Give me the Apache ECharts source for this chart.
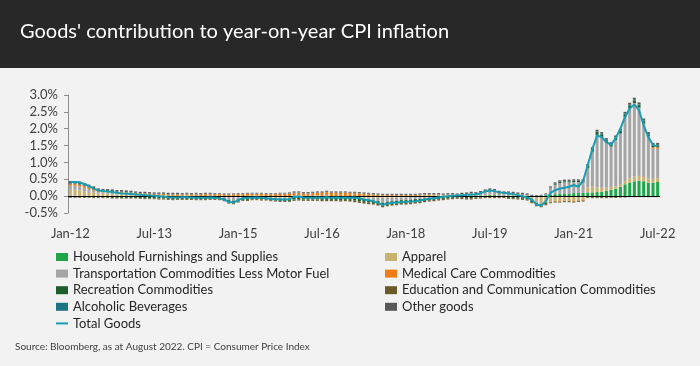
<!DOCTYPE html>
<html><head><meta charset="utf-8">
<script src="https://cdn.jsdelivr.net/npm/echarts@6/dist/echarts.min.js"></script>
<style>html,body{margin:0;padding:0;background:#f2f2f2;}#c{width:700px;height:366px;}</style>
</head><body><div id="c"></div>
<script>
const monthNames=['Jan','Feb','Mar','Apr','May','Jun','Jul','Aug','Sep','Oct','Nov','Dec'];
const categories=[];
for(let y=2012;y<=2022;y++){for(let m=0;m<12;m++){if(y===2022&&m>6)break;categories.push(monthNames[m]+'-'+String(y).slice(2));}}
const yTicks=[-0.5,0,0.5,1,1.5,2,2.5,3];

const household=[
0.01,0.01,0.00,0.00,0.00,-0.01,-0.01,-0.01,-0.01,-0.01,-0.01,-0.01,
-0.01,-0.01,-0.01,-0.02,-0.02,-0.02,-0.02,-0.02,-0.02,-0.02,-0.02,-0.02,
-0.02,-0.02,-0.02,-0.02,-0.02,-0.02,-0.02,-0.02,-0.02,-0.02,-0.03,-0.03,
-0.02,-0.02,-0.02,-0.01,-0.01,-0.01,-0.01,-0.01,-0.01,-0.02,-0.02,-0.02,
-0.02,-0.02,-0.02,-0.02,-0.02,-0.02,-0.03,-0.03,-0.03,-0.03,-0.03,-0.03,
-0.03,-0.03,-0.03,-0.03,-0.03,-0.03,-0.03,-0.03,-0.03,-0.03,-0.03,-0.02,
-0.02,-0.02,-0.01,-0.01,-0.01,0.00,0.00,0.01,0.01,0.01,0.01,0.02,
0.02,0.02,0.02,0.02,0.02,0.02,0.03,0.03,0.02,0.02,0.02,0.02,
0.01,0.01,0.01,0.00,0.00,0.01,0.03,0.05,0.06,0.07,0.08,0.08,
0.09,0.09,0.10,0.11,0.11,0.12,0.13,0.16,0.19,0.22,0.28,0.35,
0.40,0.44,0.46,0.44,0.40,0.40,0.42];
const apparel=[
0.18,0.18,0.17,0.15,0.13,0.10,0.08,0.07,0.07,0.06,0.05,0.05,
0.04,0.03,0.03,0.02,0.02,0.02,0.01,0.02,0.02,0.01,0.01,0.01,
0.01,0.01,0.01,0.01,0.00,0.01,0.01,0.01,0.01,0.00,0.00,0.00,
-0.01,-0.02,-0.02,-0.01,-0.01,-0.02,-0.02,-0.03,-0.03,-0.02,-0.02,-0.03,
-0.01,0.00,0.00,0.01,0.01,0.02,0.01,0.01,0.00,0.00,0.00,0.00,
0.00,-0.02,-0.03,-0.02,-0.03,-0.02,-0.01,-0.02,-0.02,-0.02,-0.02,-0.02,
-0.02,-0.01,0.00,0.01,0.02,0.02,0.02,0.02,0.01,0.02,0.02,0.00,
-0.01,-0.02,-0.02,0.00,0.01,0.02,0.02,0.01,0.00,0.00,-0.02,-0.02,
-0.03,-0.03,-0.05,-0.10,-0.15,-0.18,-0.18,-0.16,-0.14,-0.14,-0.13,-0.13,
-0.14,-0.12,-0.10,0.15,0.17,0.14,0.12,0.10,0.08,0.07,0.08,0.10,
0.13,0.14,0.14,0.13,0.12,0.11,0.11];
const transport=[
0.12,0.12,0.12,0.10,0.08,0.06,0.04,0.04,0.04,0.04,0.03,0.03,
0.03,0.03,0.02,0.02,0.02,0.01,0.01,0.00,0.00,0.00,-0.01,0.00,
0.00,0.01,0.00,-0.01,-0.01,-0.01,0.00,0.00,-0.01,-0.04,-0.09,-0.11,
-0.06,0.00,0.01,0.01,0.01,0.01,0.00,-0.01,-0.02,-0.03,-0.03,-0.02,
0.03,0.03,0.01,0.00,0.00,0.00,0.00,0.01,0.00,0.00,-0.01,-0.01,
-0.01,-0.01,-0.02,-0.05,-0.06,-0.08,-0.11,-0.15,-0.12,-0.10,-0.09,-0.08,
-0.08,-0.08,-0.08,-0.07,-0.06,-0.05,-0.04,-0.03,-0.02,-0.01,0.00,0.00,
0.01,0.02,0.03,0.02,0.04,0.07,0.09,0.08,0.05,0.04,0.04,0.03,
0.03,0.02,0.01,-0.02,-0.05,-0.04,0.02,0.20,0.28,0.32,0.33,0.33,
0.33,0.33,0.31,0.58,1.04,1.56,1.51,1.32,1.20,1.38,1.50,1.90,
2.08,2.17,2.02,1.57,1.22,0.90,0.88];
const medical=[
0.05,0.05,0.05,0.05,0.05,0.05,0.04,0.04,0.04,0.04,0.04,0.04,
0.04,0.04,0.04,0.04,0.04,0.04,0.04,0.04,0.04,0.04,0.04,0.04,
0.04,0.04,0.04,0.05,0.05,0.05,0.05,0.05,0.05,0.05,0.05,0.05,
0.06,0.06,0.06,0.06,0.06,0.06,0.06,0.06,0.06,0.07,0.07,0.07,
0.07,0.07,0.07,0.07,0.08,0.08,0.09,0.10,0.10,0.10,0.10,0.10,
0.09,0.09,0.08,0.07,0.06,0.05,0.04,0.03,0.03,0.03,0.03,0.03,
0.03,0.03,0.03,0.03,0.03,0.03,0.03,0.02,0.02,0.02,0.02,0.02,
0.02,0.02,0.03,0.03,0.03,0.04,0.04,0.04,0.04,0.03,0.03,0.03,
0.02,0.02,0.01,0.00,-0.01,-0.02,-0.02,-0.02,-0.02,-0.02,-0.02,-0.02,
-0.02,-0.02,-0.03,-0.03,-0.03,-0.03,-0.03,-0.03,-0.02,-0.02,-0.01,-0.01,
0.00,0.01,0.01,0.02,0.03,0.04,0.05];
const recreation=[
-0.03,-0.03,-0.03,-0.03,-0.03,-0.03,-0.03,-0.03,-0.03,-0.04,-0.04,-0.04,
-0.04,-0.04,-0.04,-0.04,-0.05,-0.05,-0.05,-0.05,-0.05,-0.06,-0.06,-0.06,
-0.06,-0.06,-0.06,-0.06,-0.06,-0.06,-0.06,-0.06,-0.06,-0.06,-0.07,-0.07,
-0.07,-0.07,-0.07,-0.07,-0.07,-0.07,-0.07,-0.07,-0.07,-0.07,-0.07,-0.07,
-0.07,-0.07,-0.08,-0.08,-0.08,-0.08,-0.08,-0.08,-0.08,-0.08,-0.08,-0.07,
-0.07,-0.07,-0.07,-0.07,-0.07,-0.07,-0.08,-0.08,-0.08,-0.08,-0.08,-0.08,
-0.08,-0.08,-0.08,-0.08,-0.07,-0.07,-0.07,-0.06,-0.06,-0.05,-0.05,-0.04,
-0.04,-0.04,-0.04,-0.04,-0.04,-0.03,-0.03,-0.03,-0.03,-0.03,-0.03,-0.04,
-0.04,-0.05,-0.05,-0.06,-0.06,-0.06,-0.04,0.00,0.02,0.03,0.03,0.03,
0.03,0.03,0.04,0.06,0.07,0.08,0.07,0.07,0.06,0.06,0.07,0.08,
0.08,0.08,0.07,0.06,0.05,0.05,0.04];
const education=[
-0.02,-0.02,-0.02,-0.02,-0.02,-0.02,-0.02,-0.02,-0.02,-0.02,-0.02,-0.02,
-0.02,-0.02,-0.02,-0.02,-0.02,-0.02,-0.02,-0.03,-0.03,-0.03,-0.03,-0.03,
-0.03,-0.03,-0.03,-0.03,-0.03,-0.03,-0.03,-0.03,-0.03,-0.03,-0.03,-0.03,
-0.03,-0.03,-0.03,-0.03,-0.03,-0.03,-0.03,-0.03,-0.03,-0.03,-0.03,-0.03,
-0.04,-0.04,-0.04,-0.04,-0.04,-0.04,-0.04,-0.04,-0.04,-0.04,-0.04,-0.04,
-0.05,-0.05,-0.05,-0.05,-0.05,-0.05,-0.05,-0.05,-0.05,-0.05,-0.05,-0.05,
-0.05,-0.05,-0.05,-0.05,-0.04,-0.04,-0.04,-0.04,-0.04,-0.04,-0.04,-0.04,
-0.04,-0.04,-0.04,-0.04,-0.03,-0.03,-0.03,-0.03,-0.03,-0.03,-0.03,-0.03,
-0.03,-0.03,-0.03,-0.03,-0.03,-0.03,-0.03,-0.03,-0.03,-0.03,-0.03,-0.03,
-0.03,-0.03,-0.03,-0.03,-0.03,-0.03,-0.03,-0.03,-0.03,-0.03,-0.03,-0.03,
-0.03,-0.03,-0.03,-0.03,-0.03,-0.03,-0.03];
const alcohol=[
0.02,0.02,0.02,0.02,0.02,0.02,0.01,0.01,0.01,0.01,0.01,0.01,
0.01,0.01,0.01,0.01,0.01,0.01,0.01,0.01,0.01,0.01,0.01,0.01,
0.01,0.01,0.01,0.01,0.01,0.01,0.01,0.01,0.01,0.01,0.01,0.01,
0.01,0.01,0.01,0.01,0.01,0.01,0.01,0.01,0.01,0.01,0.01,0.01,
0.01,0.01,0.01,0.01,0.01,0.01,0.01,0.01,0.01,0.01,0.01,0.01,
0.01,0.01,0.01,0.01,0.01,0.01,0.01,0.01,0.01,0.01,0.01,0.01,
0.01,0.01,0.01,0.01,0.01,0.01,0.01,0.01,0.01,0.01,0.01,0.01,
0.01,0.01,0.01,0.01,0.01,0.01,0.01,0.01,0.01,0.01,0.01,0.01,
0.01,0.01,0.01,0.01,0.01,0.01,0.01,0.01,0.01,0.01,0.01,0.01,
0.01,0.01,0.01,0.01,0.01,0.02,0.02,0.02,0.02,0.02,0.02,0.02,
0.02,0.02,0.02,0.02,0.02,0.02,0.02];
const otherGoods=[
0.07,0.07,0.07,0.07,0.06,0.06,0.06,0.05,0.05,0.05,0.05,0.05,
0.05,0.05,0.04,0.04,0.04,0.04,0.04,0.04,0.04,0.04,0.04,0.04,
0.03,0.03,0.03,0.03,0.03,0.03,0.03,0.02,0.02,0.02,0.02,0.02,
0.02,0.02,0.02,0.02,0.02,0.02,0.02,0.02,0.02,0.02,0.02,0.03,
0.03,0.03,0.03,0.03,0.03,0.03,0.03,0.03,0.03,0.03,0.03,0.03,
0.03,0.03,0.03,0.03,0.03,0.03,0.03,0.03,0.03,0.03,0.03,0.03,
0.03,0.03,0.03,0.03,0.03,0.03,0.03,0.03,0.03,0.03,0.03,0.03,
0.04,0.04,0.04,0.04,0.04,0.04,0.04,0.04,0.04,0.04,0.04,0.04,
0.04,0.04,0.04,0.03,0.02,0.02,0.02,0.03,0.04,0.04,0.04,0.04,
0.04,0.04,0.04,0.04,0.05,0.05,0.05,0.05,0.05,0.05,0.05,0.05,
0.06,0.06,0.06,0.06,0.06,0.06,0.06];
const totalGoods=[
0.42,0.42,0.41,0.36,0.30,0.22,0.17,0.15,0.14,0.12,0.10,0.08,
0.07,0.06,0.05,0.04,0.03,0.02,0.01,0.00,-0.01,-0.03,-0.04,-0.04,
-0.03,-0.03,-0.04,-0.05,-0.05,-0.05,-0.04,-0.05,-0.06,-0.10,-0.17,-0.19,
-0.12,-0.06,-0.05,-0.05,-0.04,-0.05,-0.06,-0.08,-0.09,-0.10,-0.10,-0.09,
-0.02,-0.01,-0.04,-0.05,-0.05,-0.04,-0.05,-0.03,-0.05,-0.04,-0.05,-0.04,
-0.05,-0.04,-0.06,-0.10,-0.12,-0.15,-0.20,-0.26,-0.22,-0.20,-0.19,-0.18,
-0.17,-0.16,-0.15,-0.13,-0.10,-0.08,-0.06,-0.04,-0.02,0.00,0.01,0.02,
0.03,0.04,0.05,0.05,0.08,0.14,0.17,0.15,0.11,0.10,0.08,0.06,
0.03,0.00,-0.04,-0.10,-0.25,-0.28,-0.15,0.10,0.18,0.22,0.25,0.28,
0.33,0.28,0.45,0.92,1.40,1.80,1.75,1.60,1.52,1.72,2.00,2.35,
2.60,2.72,2.55,2.10,1.75,1.52,1.47];

const barSeries=[
['Household Furnishings and Supplies',household,'#1fa64a'],
['Apparel',apparel,'#c9b26f'],
['Transportation Commodities Less Motor Fuel',transport,'#a5a5a5'],
['Medical Care Commodities',medical,'#ee7d14'],
['Recreation Commodities',recreation,'#1b5e2a'],
['Education and Communication Commodities',education,'#6b5a2a'],
['Alcoholic Beverages',alcohol,'#1d7483'],
['Other goods',otherGoods,'#595959']
];
const FONT='Lato';
const series=barSeries.map(([name,data,color])=>({
  name,type:'bar',stack:'g',data,barCategoryGap:'35%',
  itemStyle:{color},emphasis:{disabled:true}
}));
series.push({
  name:'Total Goods',type:'line',data:totalGoods,symbol:'none',showSymbol:false,
  lineStyle:{color:'#1a9db2',width:2},itemStyle:{color:'#1a9db2'},z:5,
  markLine:{symbol:'none',silent:true,label:{show:false},animation:false,
    lineStyle:{color:'#000',width:1,type:'solid'},data:[{yAxis:0}]}
});
const chart=echarts.init(document.getElementById('c'),null,{renderer:'canvas'});
const legText={fontFamily:FONT,fontSize:13,color:'#262626',lineHeight:16};
chart.setOption({
  animation:false,
  backgroundColor:'#f2f2f2',
  textStyle:{fontFamily:FONT},
  grid:{left:68,right:40,top:95,bottom:153},
  xAxis:{type:'category',data:categories,axisLine:{onZero:false,show:false},axisTick:{show:false},
    axisLabel:{interval:17,margin:14,fontFamily:FONT,fontSize:13,color:'#404040'}},
  yAxis:{type:'value',min:-0.5,max:3,interval:0.5,splitLine:{show:false},
    axisLine:{show:true,lineStyle:{color:'#8c8c8c'}},axisTick:{show:true,length:4,lineStyle:{color:'#8c8c8c'}},
    axisLabel:{margin:10,fontFamily:FONT,fontSize:13,color:'#404040',formatter:v=>v.toFixed(1)+'%'}},
  legend:[
    {orient:'vertical',left:50,top:244,itemWidth:12,itemHeight:8,itemGap:0.6,textStyle:legText,
     data:[{name:'Household Furnishings and Supplies',icon:'rect'},{name:'Transportation Commodities Less Motor Fuel',icon:'rect'},{name:'Recreation Commodities',icon:'rect'},{name:'Alcoholic Beverages',icon:'rect'},{name:'Total Goods',itemStyle:{opacity:0}}]},
    {orient:'vertical',left:380,top:244,itemWidth:12,itemHeight:8,itemGap:0.6,textStyle:legText,
     data:[{name:'Apparel',icon:'rect'},{name:'Medical Care Commodities',icon:'rect'},{name:'Education and Communication Commodities',icon:'rect'},{name:'Other goods',icon:'rect'}]}
  ],
  graphic:[
    {type:'rect',left:0,top:0,shape:{width:700,height:68},style:{fill:'#282828'},z:-1},
    {type:'text',left:20,top:22,style:{text:"Goods' contribution to year-on-year CPI inflation",fill:'#ffffff',font:'20px Lato'}},
    {type:'text',left:15,top:342,style:{text:'Source: Bloomberg, as at August 2022. CPI = Consumer Price Index',fill:'#404040',font:'10px Lato'}}
  ],
  series
});
</script></body></html>
